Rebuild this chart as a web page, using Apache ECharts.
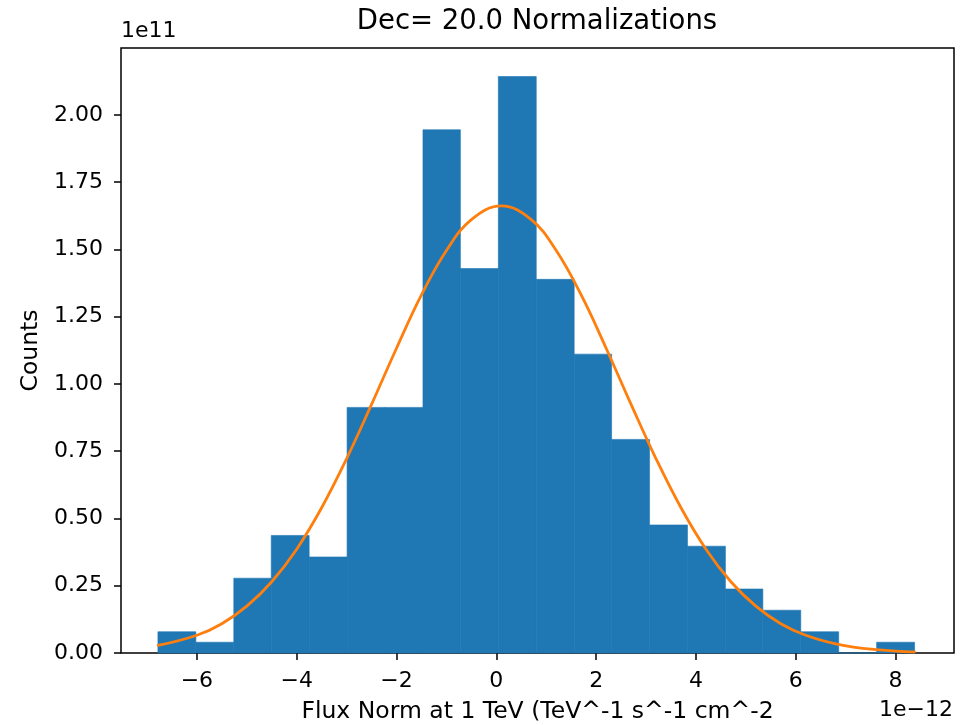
<!DOCTYPE html>
<html>
<head>
<meta charset="utf-8">
<script src="https://cdn.jsdelivr.net/npm/echarts@6/dist/echarts.min.js"></script>
<style>
html,body{margin:0;padding:0;background:#fff;}
#chart{width:973px;height:725px;}
</style>
</head>
<body>
<div id="chart"></div>
<script>
// Histogram bin edges (units of 1e-12)
var binEdges = [-6.78, -6.02, -5.26, -4.51, -3.75, -2.99, -2.23, -1.47, -0.72, 0.04, 0.80, 1.56, 2.31, 3.07, 3.83, 4.59, 5.34, 6.10, 6.86, 7.62, 8.38];
// Bar heights (units of 1e11)
var binHeights = [0.079, 0.040, 0.278, 0.437, 0.357, 0.913, 0.913, 1.945, 1.429, 2.143, 1.389, 1.111, 0.794, 0.476, 0.397, 0.238, 0.159, 0.079, 0, 0.040];
// Fitted curve points
var curveX = [-6.8, -6.0, -5.5, -5.0, -4.5, -4.0, -3.5, -3.0, -2.5, -2.0, -1.5, -1.0, -0.5, 0.1, 0.7, 1.2, 1.7, 2.2, 2.7, 3.2, 3.7, 4.2, 4.7, 5.2, 5.7, 6.2, 6.8, 7.4, 8.0, 8.4];
var curveY = [0.027, 0.066, 0.109, 0.174, 0.265, 0.386, 0.540, 0.722, 0.924, 1.133, 1.331, 1.496, 1.611, 1.662, 1.611, 1.496, 1.331, 1.133, 0.924, 0.722, 0.540, 0.386, 0.265, 0.174, 0.109, 0.066, 0.034, 0.016, 0.007, 0.004];
// Tick values
var xTicks = [-6, -4, -2, 0, 2, 4, 6, 8];
var yTicks = [0, 0.25, 0.5, 0.75, 1.0, 1.25, 1.5, 1.75, 2.0];

var titleText = 'Dec= 20.0 Normalizations';
var xName = 'Flux Norm at 1 TeV (TeV^-1 s^-1 cm^-2';
var yName = 'Counts';
var yOffsetText = '1e11';
var xOffsetText = '1e\u221212';

var FONT = 'DejaVu Sans';

var bars = [];
for (var i = 0; i < binHeights.length; i++) {
  bars.push([binEdges[i], binEdges[i + 1], binHeights[i]]);
}
var curve = curveX.map(function (x, i) { return [x, curveY[i]]; });

var chart = echarts.init(document.getElementById('chart'), null, {renderer: 'canvas'});

function fmtX(v) {
  var s = String(Math.round(v));
  return s.replace('-', '\u2212');
}

var option = {
  animation: false,
  backgroundColor: '#ffffff',
  grid: {
    left: 121, right: 19, top: 48, bottom: 72,
    containLabel: false,
    outerBoundsMode: 'none',
    show: true, borderColor: '#000', borderWidth: 1.5, backgroundColor: 'transparent'
  },
  xAxis: {
    type: 'value',
    min: -7.52, max: 9.17,
    splitLine: {show: false},
    axisLine: {show: false, onZero: false},
    axisTick: {show: true, inside: false, length: 7, lineStyle: {color: '#000', width: 1.5}, customValues: xTicks},
    axisLabel: {show: true, customValues: xTicks, formatter: fmtX, color: '#000', fontFamily: FONT, fontSize: 22, margin: 17},
    name: xName,
    nameLocation: 'middle',
    nameGap: 47,
    nameTextStyle: {color: '#000', fontFamily: FONT, fontSize: 23.5}
  },
  yAxis: {
    type: 'value',
    min: 0, max: 2.249,
    splitLine: {show: false},
    axisLine: {show: false, onZero: false},
    axisTick: {show: true, inside: false, length: 7, lineStyle: {color: '#000', width: 1.5}, customValues: yTicks},
    axisLabel: {show: true, customValues: yTicks, formatter: function (v) { return v.toFixed(2); }, color: '#000', fontFamily: FONT, fontSize: 22, margin: 18},
    name: yName,
    nameLocation: 'middle',
    nameGap: 78,
    nameTextStyle: {color: '#000', fontFamily: FONT, fontSize: 23.5}
  },
  graphic: [
    {type: 'text', x: 537, y: 22, style: {text: titleText, font: '27.5px "DejaVu Sans"', fill: '#000', textAlign: 'center', textVerticalAlign: 'middle'}},
    {type: 'text', x: 121, y: 31, style: {text: yOffsetText, font: '22px "DejaVu Sans"', fill: '#000', textAlign: 'left', textVerticalAlign: 'middle'}},
    {type: 'text', x: 953, y: 710, style: {text: xOffsetText, font: '22px "DejaVu Sans"', fill: '#000', textAlign: 'right', textVerticalAlign: 'middle'}}
  ],
  series: [
    {
      type: 'custom',
      data: bars,
      encode: {x: [0, 1], y: 2},
      renderItem: function (params, api) {
        var p0 = api.coord([api.value(0), api.value(2)]);
        var p1 = api.coord([api.value(1), 0]);
        return {
          type: 'rect',
          shape: {x: p0[0], y: p0[1], width: p1[0] - p0[0], height: p1[1] - p0[1]},
          style: {fill: '#1f77b4', stroke: '#1f77b4', lineWidth: 0.6}
        };
      },
      z: 2
    },
    {
      type: 'line',
      data: curve,
      smooth: 0.4,
      showSymbol: false,
      lineStyle: {color: '#ff7f0e', width: 2.8},
      z: 3
    }
  ]
};
chart.setOption(option);
</script>
</body>
</html>
